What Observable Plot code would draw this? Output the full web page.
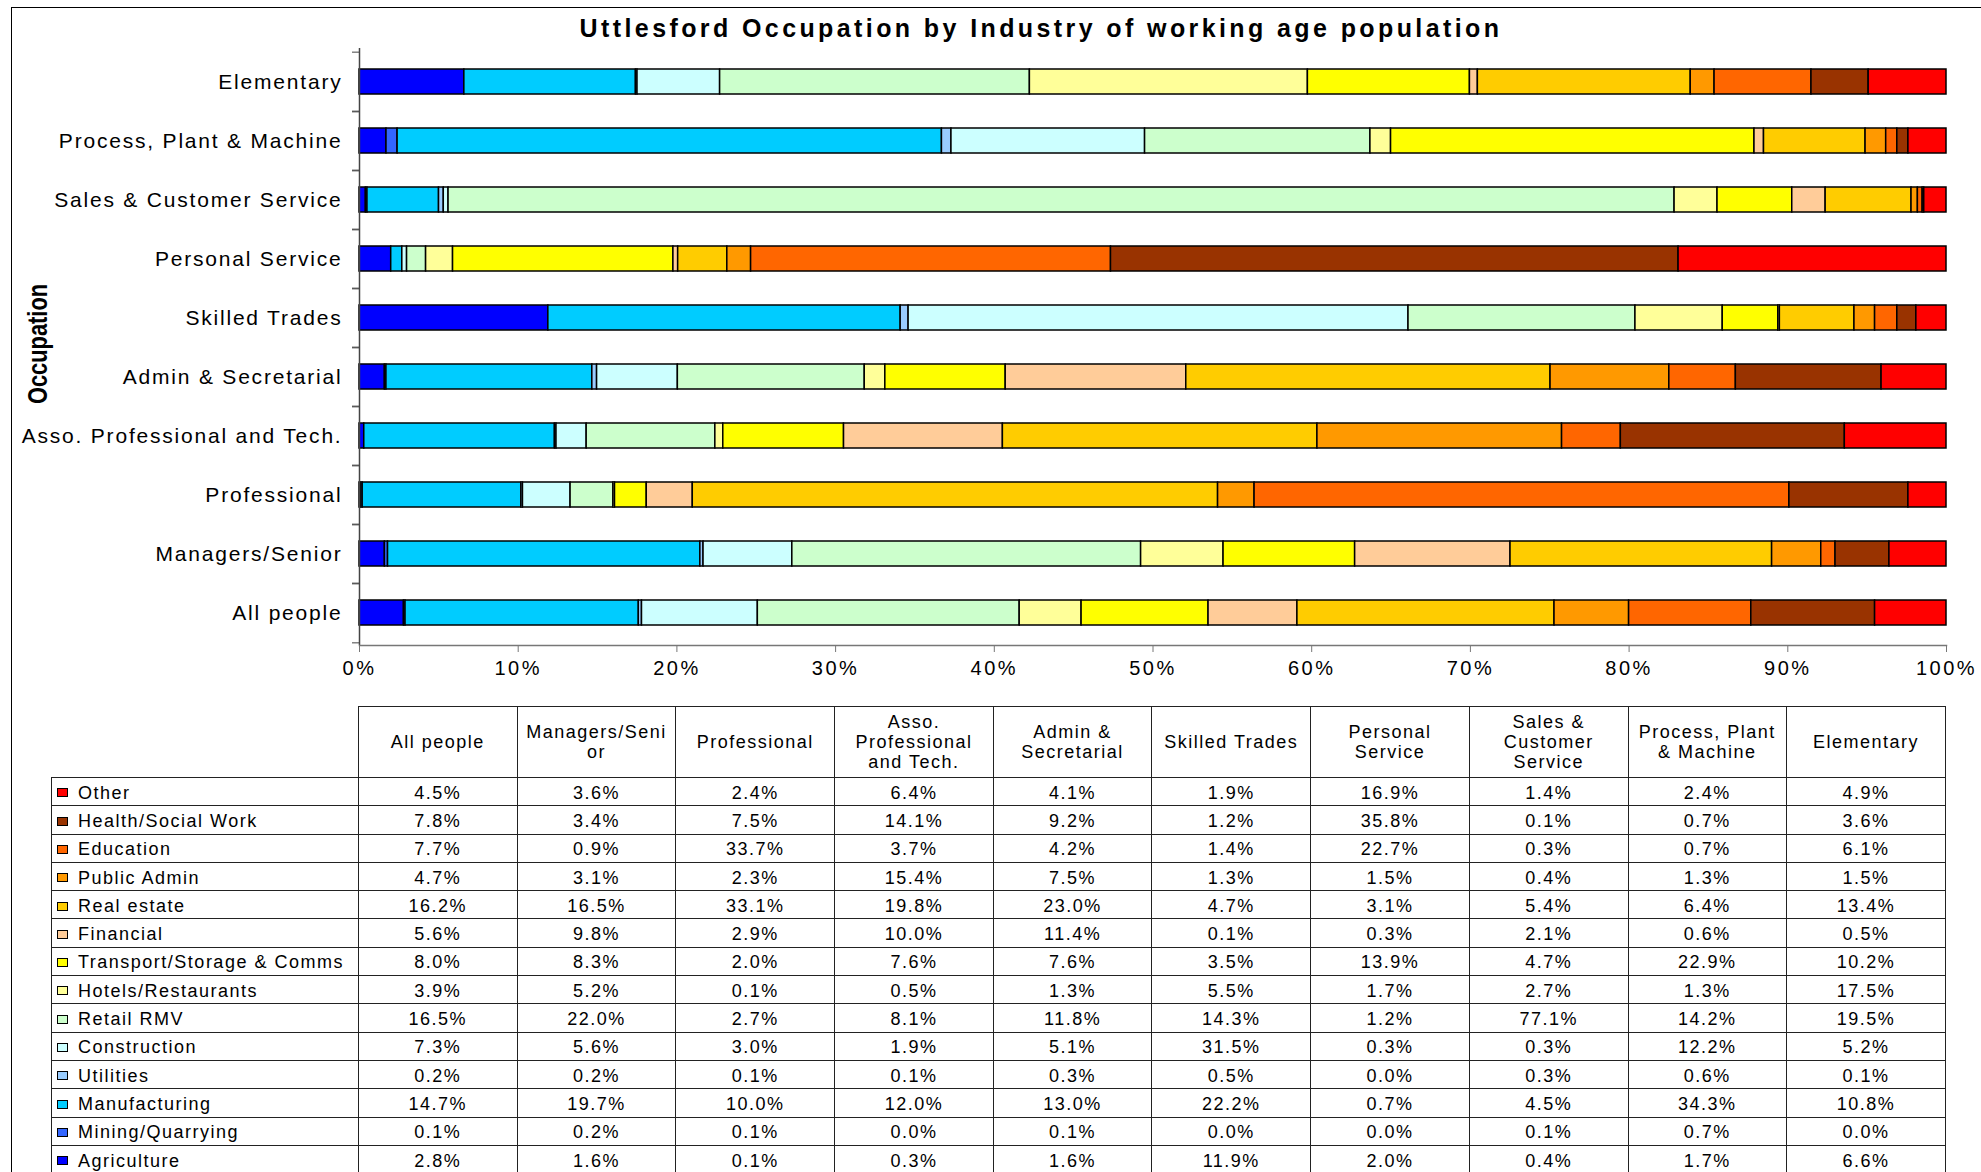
<!DOCTYPE html>
<html><head><meta charset="utf-8">
<script src="https://cdn.jsdelivr.net/npm/d3@7"></script>
<script src="https://cdn.jsdelivr.net/npm/@observablehq/plot@0.6"></script>
<style>
html,body{margin:0;padding:0;background:#fff;}
body{width:1981px;height:1172px;overflow:hidden;position:relative;font-family:"Liberation Sans",Arial,sans-serif;color:#000;}
#frame{position:absolute;left:11px;top:7px;width:2000px;height:1200px;border-left:1px solid #000;border-top:1px solid #000;}
#title{position:absolute;left:0;width:2082px;top:13px;line-height:30px;text-align:center;font-weight:bold;font-size:25px;letter-spacing:3.4px;white-space:nowrap;}
#ylabel{position:absolute;left:38px;top:344px;transform:translate(-50%,-50%) rotate(-90deg) scaleX(0.78);font-weight:bold;font-size:28px;white-space:nowrap;}
#chart{position:absolute;left:0;top:0;}
#chart [aria-label="y-axis tick label"] text{letter-spacing:1.8px;}
#chart [aria-label="x-axis tick label"] text{letter-spacing:2.5px;}
#tbl{position:absolute;left:51px;top:706px;border-collapse:collapse;table-layout:fixed;font-size:18px;letter-spacing:1.5px;}
#tbl td,#tbl th{border:1px solid #222;padding:0;text-align:center;font-weight:normal;white-space:nowrap;overflow:hidden;}
#tbl th{height:70px;line-height:20px;}
#tbl th.corner{border-top:none;border-left:none;}
#tbl tbody tr{height:28.3px;}
#tbl td{padding-top:3px;}
#tbl td.leg{text-align:left;padding-left:5px;}
.sw{display:inline-block;width:9px;height:7px;border:1px solid #000;margin-right:10px;vertical-align:middle;position:relative;top:-1px;}
</style>
</head><body>
<div id="frame"></div>
<div id="chart"></div>
<div id="title"></div>
<div id="ylabel"></div>
<table id="tbl"></table>
<script>
const chartTitle = "Uttlesford Occupation by Industry of working age population";
const yTitle = "Occupation";

// Occupations in table column order (bottom-to-top in the chart)
const occupations = ["All people","Managers/Senior","Professional","Asso. Professional and Tech.","Admin & Secretarial","Skilled Trades","Personal Service","Sales & Customer Service","Process, Plant & Machine","Elementary"];
const tableHeaders = ["All people","Managers/Seni\nor","Professional","Asso.\nProfessional\nand Tech.","Admin &\nSecretarial","Skilled Trades","Personal\nService","Sales &\nCustomer\nService","Process, Plant\n& Machine","Elementary"];

// Industries in stacking order (left to right)
const industries = ["Agriculture","Mining/Quarrying","Manufacturing","Utilities","Construction","Retail RMV","Hotels/Restaurants","Transport/Storage & Comms","Financial","Real estate","Public Admin","Education","Health/Social Work","Other"];
const industryColors = ["#0000FF","#3366FF","#00CCFF","#99CCFF","#CCFFFF","#CCFFCC","#FFFF99","#FFFF00","#FFCC99","#FFCC00","#FF9900","#FF6600","#993300","#FF0000"];

// Percent shares per industry, one value per occupation (table column order)
const agriculture   = [2.8, 1.6, 0.1, 0.3, 1.6, 11.9, 2.0, 0.4, 1.7, 6.6];
const mining        = [0.1, 0.2, 0.1, 0.0, 0.1, 0.0, 0.0, 0.1, 0.7, 0.0];
const manufacturing = [14.7, 19.7, 10.0, 12.0, 13.0, 22.2, 0.7, 4.5, 34.3, 10.8];
const utilities     = [0.2, 0.2, 0.1, 0.1, 0.3, 0.5, 0.0, 0.3, 0.6, 0.1];
const construction  = [7.3, 5.6, 3.0, 1.9, 5.1, 31.5, 0.3, 0.3, 12.2, 5.2];
const retail        = [16.5, 22.0, 2.7, 8.1, 11.8, 14.3, 1.2, 77.1, 14.2, 19.5];
const hotels        = [3.9, 5.2, 0.1, 0.5, 1.3, 5.5, 1.7, 2.7, 1.3, 17.5];
const transport     = [8.0, 8.3, 2.0, 7.6, 7.6, 3.5, 13.9, 4.7, 22.9, 10.2];
const financial     = [5.6, 9.8, 2.9, 10.0, 11.4, 0.1, 0.3, 2.1, 0.6, 0.5];
const realEstate    = [16.2, 16.5, 33.1, 19.8, 23.0, 4.7, 3.1, 5.4, 6.4, 13.4];
const publicAdmin   = [4.7, 3.1, 2.3, 15.4, 7.5, 1.3, 1.5, 0.4, 1.3, 1.5];
const education     = [7.7, 0.9, 33.7, 3.7, 4.2, 1.4, 22.7, 0.3, 0.7, 6.1];
const health        = [7.8, 3.4, 7.5, 14.1, 9.2, 1.2, 35.8, 0.1, 0.7, 3.6];
const other         = [4.5, 3.6, 2.4, 6.4, 4.1, 1.9, 16.9, 1.4, 2.4, 4.9];

const xTicks = [0, 0.1, 0.2, 0.3, 0.4, 0.5, 0.6, 0.7, 0.8, 0.9, 1];

const shares = [agriculture, mining, manufacturing, utilities, construction, retail, hotels, transport, financial, realEstate, publicAdmin, education, health, other];

const long = [];
industries.forEach((ind, i) => occupations.forEach((occ, j) => long.push({industry: ind, occupation: occ, value: shares[i][j]})));

const W = 1981, H = 690, mL = 359, mR = 35, mT = 48, mB = 45;
const step = (H - mT - mB) / occupations.length;
const fontFam = '"Liberation Sans", Arial, sans-serif';

const chart = Plot.plot({
  width: W, height: H,
  marginLeft: mL, marginRight: mR, marginTop: mT, marginBottom: mB,
  style: {fontFamily: fontFam, fontSize: "20px", background: "transparent", color: "#000", overflow: "visible"},
  x: {domain: [0, 1]},
  y: {domain: occupations.slice().reverse(), paddingInner: 0.58, paddingOuter: 0.29},
  color: {domain: industries, range: industryColors},
  marks: [
    Plot.barX(long, {x: "value", y: "occupation", fill: "industry", stroke: "#000", strokeWidth: 1.5, offset: "normalize", order: industries}),
    Plot.ruleX([0], {stroke: "#444", strokeWidth: 1.5}),
    Plot.frame({anchor: "bottom", stroke: "#777", strokeWidth: 1.5}),
    Plot.axisX({ticks: xTicks, tickSize: 7, tickPadding: 8, tickFormat: d3.format(".0%"), label: null, fontSize: 20, stroke: "#777"}),
    Plot.axisY({tickSize: 0, tickPadding: 17, label: null, fontSize: 21}),
    Plot.axisY({tickSize: 7, tickFormat: () => "", dy: -step / 2, label: null, stroke: "#444"}),
    Plot.axisY({tickSize: 7, tickFormat: () => "", dy: step / 2, label: null, stroke: "#444"})
  ]
});
document.getElementById("chart").appendChild(chart);
document.getElementById("title").textContent = chartTitle;
document.getElementById("ylabel").textContent = yTitle;

// Data table
const fmt = v => d3.format(".1f")(v) + "%";
const tbl = d3.select("#tbl");
const cg = tbl.append("colgroup");
cg.append("col").style("width", "307px");
occupations.forEach(() => cg.append("col").style("width", ((W - mL - mR) / occupations.length) + "px"));
const hr = tbl.append("thead").append("tr");
hr.append("th").attr("class", "corner");
tableHeaders.forEach(h => hr.append("th").html(h.split("\n").join("<br>")));
const tb = tbl.append("tbody");
for (let i = industries.length - 1; i >= 0; i--) {
  const tr = tb.append("tr");
  const lc = tr.append("td").attr("class", "leg");
  lc.append("span").attr("class", "sw").style("background", industryColors[i]);
  lc.append("span").text(industries[i]);
  shares[i].forEach(v => tr.append("td").text(fmt(v)));
}
</script>
</body></html>
